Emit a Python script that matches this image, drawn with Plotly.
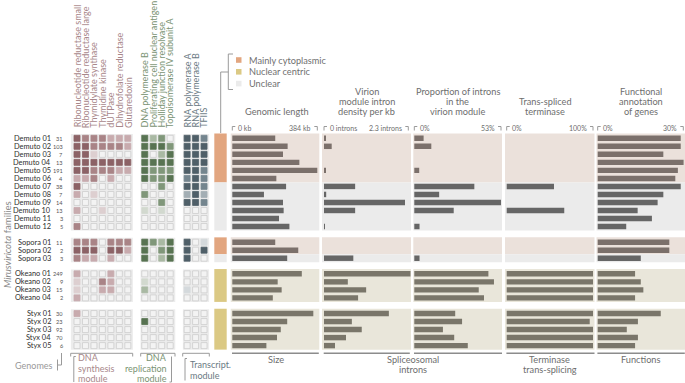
import plotly.graph_objects as go

W, H = 685, 383
FONT = "Lato, 'Open Sans', sans-serif"

# ---------------- data ----------------
families = ["Demuto 01", "Demuto 02", "Demuto 03", "Demuto 04", "Demuto 05", "Demuto 06",
            "Demuto 07", "Demuto 08", "Demuto 09", "Demuto 10", "Demuto 11", "Demuto 12",
            "Sopora 01", "Sopora 02", "Sopora 03",
            "Okeano 01", "Okeano 02", "Okeano 03", "Okeano 04",
            "Styx 01", "Styx 02", "Styx 03", "Styx 04", "Styx 05"]
genomes = [31, 103, 7, 13, 191, 4, 38, 7, 14, 13, 3, 5,
           11, 2, 3,
           249, 9, 15, 2,
           30, 23, 92, 70, 6]
localization = ["Mainly cytoplasmic", "Mainly cytoplasmic", "Mainly cytoplasmic", "Mainly cytoplasmic",
                "Mainly cytoplasmic", "Mainly cytoplasmic", "Unclear", "Unclear", "Unclear", "Unclear",
                "Unclear", "Unclear",
                "Mainly cytoplasmic", "Mainly cytoplasmic", "Unclear",
                "Nuclear centric", "Nuclear centric", "Nuclear centric", "Nuclear centric",
                "Nuclear centric", "Nuclear centric", "Nuclear centric", "Nuclear centric", "Nuclear centric"]
localization_classes = ["Mainly cytoplasmic", "Nuclear centric", "Unclear"]

genomic_length_kb = [194, 250, 229, 303, 384, 199, 243, 143, 229, 232, 211, 258,
                     194, 298, 248,
                     314, 205, 223, 183,
                     366, 248, 219, 202, 154]
intron_density_per_kb = [0.05, 0.21, 0, 0, 0.05, 0, 0.85, 0.06, 2.21, 0.85, 0, 0.02,
                         0, 0, 0.80,
                         2.36, 0.65, 1.15, 0.93,
                         1.77, 0.76, 1.03, 0.60, 0.30]
virion_intron_pct = [5.7, 10.4, 0, 0, 3.0, 0, 36.7, 15.2, 53, 24.1, 0, 3.2,
                     0, 0, 3.2,
                     45.3, 48.7, 39.4, 42.6,
                     25.0, 29.2, 17.5, 24.4, 32.7]
terminase_trans_spliced_pct = [0, 0, 0, 0, 0, 0, 54.8, 0, 0, 66.7, 0, 0,
                               0, 0, 0,
                               100, 100, 100, 100,
                               100, 96.2, 100, 100, 100]
functional_annotation_pct = [29.1, 29.1, 23.0, 30.1, 28.1, 27.2, 29.1, 23.0, 21.0, 14.0, 19.0, 10.0,
                             25.1, 25.1, 15.1,
                             13.1, 15.1, 16.0, 13.1,
                             22.1, 14.1, 10.2, 14.1, 13.1]

synthesis_genes = ["Ribonucleotide reductase small", "Ribonucleotide reductase large",
                   "Thymidylate synthase", "Thymidine kinase", "dUTPase",
                   "Dihydrofolate reductase", "Glutaredoxin"]
replication_genes = ["DNA polymerase B", "Proliferating cell nuclear antigen",
                     "Holliday junction resolvase", "Topoisomerase IV subunit A"]
transcription_genes = ["RNA polymerase A", "RNA polymerase B", "TFIIS"]

# prevalence level per family (0 = absent ... 4 = widespread)
synthesis_levels = [
    [4, 3, 3, 3, 2, 2, 2], [4, 4, 3, 3, 3, 3, 2], [4, 4, 1, 0, 0, 0, 0], [4, 4, 4, 4, 4, 4, 4],
    [4, 4, 3, 3, 3, 2, 2], [2, 2, 3, 0, 2, 0, 0], [4, 0, 0, 0, 0, 0, 0], [2, 0, 1, 0, 0, 0, 0],
    [0, 0, 0, 0, 0, 0, 0], [2, 0, 0, 1, 0, 0, 0], [0, 0, 0, 0, 0, 0, 0], [3, 0, 0, 0, 0, 0, 0],
    [3, 3, 3, 0, 3, 3, 3], [4, 4, 4, 0, 4, 4, 2], [3, 2, 2, 0, 2, 0, 0],
    [2, 0, 0, 0, 2, 0, 0], [1, 0, 0, 3, 2, 0, 0], [1, 0, 0, 2, 2, 0, 0], [2, 0, 0, 0, 0, 0, 0],
    [2, 0, 0, 0, 0, 0, 0], [0, 0, 0, 0, 0, 0, 0], [0, 0, 0, 0, 0, 0, 0], [0, 0, 0, 0, 0, 0, 0],
    [0, 0, 0, 0, 0, 0, 0]]
replication_levels = [
    [4, 2, 3, 0], [4, 4, 4, 3], [4, 0, 2, 4], [4, 4, 4, 4], [4, 3, 3, 3], [4, 3, 3, 4],
    [0, 0, 3, 0], [3, 0, 0, 0], [0, 0, 3, 0], [1, 0, 1, 0], [0, 0, 0, 0], [0, 0, 0, 0],
    [4, 3, 2, 4], [4, 0, 3, 4], [4, 0, 2, 4],
    [0, 0, 0, 0], [1, 0, 0, 0], [2, 0, 0, 0], [0, 0, 0, 0],
    [0, 0, 0, 0], [4, 0, 0, 0], [0, 0, 0, 0], [0, 0, 0, 0], [0, 0, 0, 0]]
transcription_levels = [
    [4, 4, 3], [4, 4, 4], [4, 4, 4], [4, 4, 4], [4, 4, 3], [3, 4, 3],
    [4, 4, 3], [2, 4, 2], [4, 4, 3], [0, 0, 0], [0, 0, 0], [0, 0, 0],
    [4, 0, 1], [4, 0, 4], [4, 0, 0],
    [0, 0, 0], [0, 0, 0], [1, 0, 0], [0, 0, 0],
    [0, 0, 0], [0, 0, 0], [0, 0, 0], [0, 0, 0], [0, 0, 0]]

# ---------------- styling / geometry ----------------
LOC_COLOR = {"Mainly cytoplasmic": "#e2a680", "Nuclear centric": "#dbc984", "Unclear": "#ebebeb"}
BG_COLOR = {"Mainly cytoplasmic": "#ebe1db", "Nuclear centric": "#e9e6da", "Unclear": "#ebebeb"}
BAR_COLOR = {"Mainly cytoplasmic": "#7b706b", "Nuclear centric": "#7a766a", "Unclear": "#666666"}
LINE_GRAY = "#9a9a9a"
TXT_GRAY = "#6e6e6e"

MODULES = [
    dict(genes=synthesis_genes, levels=synthesis_levels, offset=0, pad_l=0.72, text="#a8878a",
         shades=["#f3f3f3", "#ddcfd0", "#c8abae", "#a98487", "#8c6266"]),
    dict(genes=replication_genes, levels=replication_levels, offset=8, pad_l=0.5, text="#7a9373",
         shades=["#f3f3f3", "#d2d9cf", "#a9b9a3", "#80977a", "#587352"]),
    dict(genes=transcription_genes, levels=transcription_levels, offset=13, pad_l=0.5, text="#6a7a83",
         shades=["#f3f3f3", "#d4d9dc", "#a3aeb4", "#74858e", "#4f5f68"]),
]

GROUP_GAP = 0.95
ROW0_PX, ROW_PX = 138.3, 8.02
COL0_PX, COL_PX = 77.0, 8.47


def X(px):
    return px / W


def Y(py):
    return 1 - py / H


# row positions (index + extra gap between family groups)
ypos, group_of = [], []
gi, prev = -1, None
for i, name in enumerate(families):
    g = name.split()[0]
    if g != prev:
        gi += 1
        prev = g
    group_of.append(gi)
    ypos.append(i + gi * GROUP_GAP)

groups = []  # (first, last)
for i in range(len(families)):
    if i == 0 or group_of[i] != group_of[i - 1]:
        groups.append([i, i])
    else:
        groups[-1][1] = i

runs = []  # runs of same localisation within a group
for (a, b) in groups:
    s = a
    for i in range(a, b + 1):
        if i == b or localization[i + 1] != localization[i]:
            runs.append((s, i, localization[s], a, b))
            s = i + 1


def run_y(first, last, gfirst, glast):
    y0 = ypos[first] - (0.6 if first == gfirst else 0.5)
    y1 = ypos[last] + 0.5
    return y0, y1


PANELS = [
    dict(values=genomic_length_kb, bg=(230.7, 319.3), zero=232.3, full=317.3, full_val=384,
         left="0 kb", right="384 kb", title=["Genomic length"], title_x=277),
    dict(values=intron_density_per_kb, bg=(322.0, 411.0), zero=324.0, full=408.3, full_val=2.3,
         left="0 introns", right="2.3 introns", title=["Virion", "module intron", "density per kb"], title_x=366.5),
    dict(values=virion_intron_pct, bg=(413.3, 502.0), zero=414.3, full=501.0, full_val=53,
         left="0%", right="53%", title=["Proportion of introns", "in the", "virion module"], title_x=457.6),
    dict(values=terminase_trans_spliced_pct, bg=(505.0, 594.5), zero=506.7, full=593.0, full_val=100,
         left="0%", right="100%", title=["Trans-spliced", "terminase"], title_x=545),
    dict(values=functional_annotation_pct, bg=(596.5, 685.0), zero=597.7, full=683.3, full_val=30,
         left="0%", right="30%", title=["Functional", "annotation", "of genes"], title_x=641),
]
BOTTOM_LABELS = [(["Size"], 275.5), (["Spliceosomal", "introns"], 412.5),
                 (["Terminase", "trans-splicing"], 549.7), (["Functions"], 640.8)]

fig = go.Figure()
shapes, anns = [], []


def ann(text, x, y, size=9.2, color=TXT_GRAY, xanchor="center", yanchor="middle",
        xref="paper", yref="paper", angle=0):
    anns.append(dict(text=text, x=x, y=y, xref=xref, yref=yref, xanchor=xanchor, yanchor=yanchor,
                     showarrow=False, textangle=angle, borderpad=0,
                     font=dict(family=FONT, size=size, color=color)))


def pline(x0, y0, x1, y1, color=LINE_GRAY, width=1):
    shapes.append(dict(type="line", xref="paper", yref="paper", x0=X(x0), y0=Y(y0), x1=X(x1), y1=Y(y1),
                       line=dict(color=color, width=width)))


# ---------------- gene-presence grid ----------------
for m in MODULES:
    n = len(m["genes"])
    for (a, b) in groups:
        shapes.append(dict(type="rect", xref="x", yref="y", layer="below",
                           x0=m["offset"] - m["pad_l"], x1=m["offset"] + n - 1 + 0.6,
                           y0=ypos[a] - 0.55, y1=ypos[b] + 0.5,
                           fillcolor="#ececec", line=dict(width=0)))
    xs, ys, fills, lines = [], [], [], []
    for i in range(len(families)):
        for j in range(n):
            lev = m["levels"][i][j]
            xs.append(m["offset"] + j)
            ys.append(ypos[i])
            fills.append(m["shades"][lev])
            lines.append("#cdcdcd" if lev == 0 else m["shades"][lev])
    fig.add_trace(go.Scatter(x=xs, y=ys, mode="markers", xaxis="x", yaxis="y", hoverinfo="skip",
                             marker=dict(symbol="square", size=6, color=fills,
                                         line=dict(color=lines, width=0.8))))
    for j, gname in enumerate(m["genes"]):
        ann(gname, m["offset"] + j, Y(128.8), size=9, color=m["text"], xref="x",
            yanchor="bottom", angle=-90)

# ---------------- localisation column ----------------
for (a, b, cls, ga, gb) in runs:
    y0, y1 = run_y(a, b, ga, gb)
    shapes.append(dict(type="rect", xref="paper", yref="y", layer="below",
                       x0=X(214.3), x1=X(226.7), y0=y0, y1=y1,
                       fillcolor=LOC_COLOR[cls], line=dict(width=0)))

# ---------------- bar panels ----------------
layout_axes = {}
for k, p in enumerate(PANELS):
    ax = k + 2
    scale = p["full_val"] / (p["full"] - p["zero"])
    rng = [(p["bg"][0] - p["zero"]) * scale, (p["bg"][1] - p["zero"]) * scale]
    layout_axes[f"xaxis{ax}"] = dict(domain=[X(p["bg"][0]), X(p["bg"][1])], range=rng,
                                     visible=False, anchor="y", fixedrange=True)
    for (a, b, cls, ga, gb) in runs:
        y0, y1 = run_y(a, b, ga, gb)
        shapes.append(dict(type="rect", xref="paper", yref="y", layer="below",
                           x0=X(p["bg"][0]), x1=X(p["bg"][1]), y0=y0, y1=y1,
                           fillcolor=BG_COLOR[cls], line=dict(width=0)))
    xs, ys, cols = [], [], []
    for i, v in enumerate(p["values"]):
        if v > 0:
            xs.append(v)
            ys.append(ypos[i])
            cols.append(BAR_COLOR[localization[i]])
    fig.add_trace(go.Bar(x=xs, y=ys, orientation="h", width=0.68, xaxis=f"x{ax}", yaxis="y",
                         hoverinfo="skip", marker=dict(color=cols, line=dict(width=0))))
    # column titles
    nl = len(p["title"])
    for li, t in enumerate(p["title"]):
        ann(t, X(p["title_x"]), Y(111.7 - (nl - 1 - li) * 10), size=9.2)
    # scale labels + brackets
    ann(p["left"], X(p["zero"] + 4.5), Y(127.5), size=7, xanchor="left")
    ann(p["right"], X(p["full"] - 5.5), Y(127.5), size=7, xanchor="right")
    pline(p["zero"], 126.5, p["zero"] + 3, 126.5)
    pline(p["zero"], 126.5, p["zero"], 130.5)
    pline(p["full"] - 3, 126.5, p["full"], 126.5)
    pline(p["full"], 126.5, p["full"], 130.5)
    # bottom underline
    pline(p["zero"] - 0.3, 353.3, min(p["bg"][1], p["full"] + 1.5), 353.3, color="#8c8c8c", width=1.4)

for lines_, cx in BOTTOM_LABELS:
    for li, t in enumerate(lines_):
        ann(t, X(cx), Y(359.3 + li * 10.5), size=9.2)

# ---------------- row labels ----------------
for i, name in enumerate(families):
    ann(name, X(51.8), ypos[i], size=7.4, color="#2e2e2e", xanchor="right", yref="y")
    ann(str(genomes[i]), X(64), ypos[i], size=5.6, color="#555555", xanchor="right", yref="y")

ann("<i>Mirusviricota</i> families", X(7), Y(245), size=9.6, color="#8a8a8a", angle=-90)

# ---------------- legend ----------------
for li, cls in enumerate(localization_classes):
    cy = 60 + li * 11.8
    shapes.append(dict(type="rect", xref="paper", yref="paper", x0=X(236), x1=X(241.5),
                       y0=Y(cy - 2.8), y1=Y(cy + 2.8), fillcolor=LOC_COLOR[cls], line=dict(width=0)))
    ann(cls, X(248), Y(cy), size=9.2, color="#707070", xanchor="left")
pline(228.3, 54, 228.3, 89.5)
pline(228.3, 54, 233, 54)
pline(228.3, 89.5, 233, 89.5)
pline(220.7, 72, 228.3, 72)
pline(220.7, 72, 220.7, 133)

# ---------------- bottom-left module annotations ----------------
ann("Genomes", X(53.5), Y(365), size=9, color="#999999", xanchor="right")
pline(57.5, 359.5, 57.5, 370.5)
pline(57.5, 365, 61.5, 365)
pline(61.5, 353, 61.5, 365)

# DNA synthesis
pline(70.7, 353.3, 132.7, 353.3)
pline(70.7, 353.3, 70.7, 356.5)
pline(132.7, 353.3, 132.7, 356.5)
pline(73.8, 356.5, 73.8, 382)
pline(73.8, 356.5, 75.8, 356.5)
for li, t in enumerate(["DNA", "synthesis", "module"]):
    ann(t, X(77.3), Y(357.8 + li * 10.3), size=9, color=MODULES[0]["text"], xanchor="left")

# DNA replication
pline(140.7, 353.3, 175, 353.3)
pline(140.7, 353.3, 140.7, 356.5)
pline(175, 353.3, 175, 356.5)
pline(171.5, 356.5, 171.5, 382)
pline(169.5, 382, 171.5, 382)
for li, t in enumerate(["DNA", "replication", "module"]):
    ann(t, X(168), Y(357.8 + li * 10.3), size=9, color=MODULES[1]["text"], xanchor="right")

# Transcription
pline(182.7, 353.3, 209.3, 353.3)
pline(182.7, 353.3, 182.7, 356.5)
pline(209.3, 353.3, 209.3, 356.5)
pline(185, 358.5, 185, 380.5)
pline(185, 358.5, 187, 358.5)
for li, t in enumerate(["Transcript.", "module"]):
    ann(t, X(189.3), Y(364.5 + li * 10.8), size=9, color=MODULES[2]["text"], xanchor="left")

# ---------------- layout ----------------
fig.update_layout(
    width=W, height=H, margin=dict(l=0, r=0, t=0, b=0, pad=0),
    paper_bgcolor="white", plot_bgcolor="rgba(0,0,0,0)", showlegend=False, barmode="overlay",
    xaxis=dict(domain=[0, 1], range=[-COL0_PX / COL_PX, (W - COL0_PX) / COL_PX],
               visible=False, fixedrange=True, anchor="y"),
    yaxis=dict(domain=[0, 1], range=[(H - ROW0_PX) / ROW_PX, -ROW0_PX / ROW_PX],
               visible=False, fixedrange=True, anchor="x"),
    shapes=shapes, annotations=anns,
    font=dict(family=FONT),
    **layout_axes,
)

fig.write_html("out.html", config={"displayModeBar": False},
               post_script="document.body.style.margin='0';document.body.style.padding='0';")
